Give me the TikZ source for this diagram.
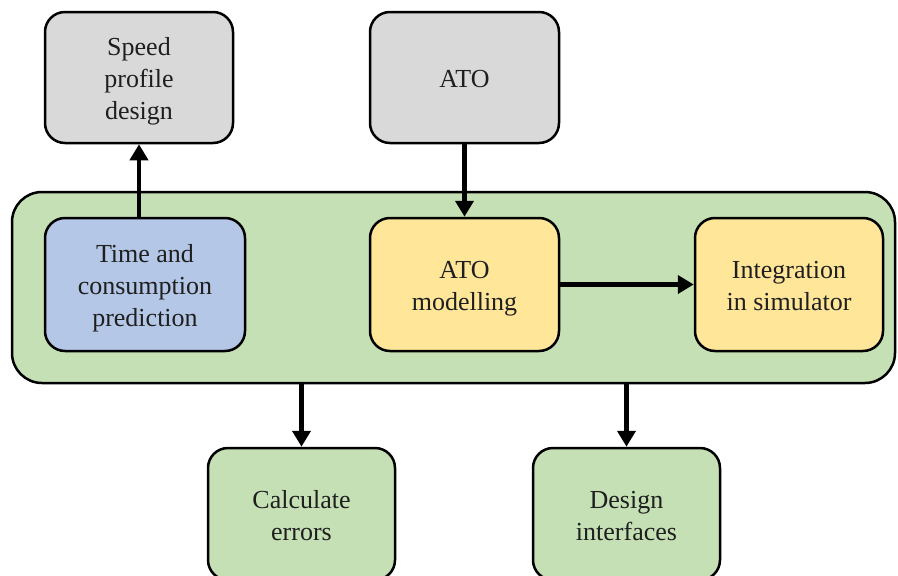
\documentclass[tikz,border=0pt]{standalone}
\usepackage{fontspec}
\setmainfont{Liberation Serif}
\usetikzlibrary{arrows.meta}
\definecolor{cgray}{HTML}{D9D9D9}
\definecolor{cgreen}{HTML}{C5E0B4}
\definecolor{cblue}{HTML}{B4C7E7}
\definecolor{cyellow}{HTML}{FFE699}
\newcommand\boxtext[1]{\raisebox{0pt}[\dimexpr\height+8pt\relax][\depth]{\begin{tabular}{@{}c@{}}#1\end{tabular}}}
\begin{document}
\begin{tikzpicture}[x=1pt,y=-1pt,
  box/.style={draw=black, line width=2.5pt, rounded corners=20pt, align=center,
    font=\fontsize{26}{32}\selectfont, inner sep=0pt, text=black!88},
  conn/.style={line width=4.5pt, -{Triangle[length=16pt,width=18pt]}}]
\useasboundingbox (0,0) rectangle (898,576);
\clip (0,0) rectangle (898,576);
\node[box, fill=cgreen, minimum width=883pt, minimum height=191pt, rounded corners=30pt] (cont) at (453.5,287.5) {};
\node[box, fill=cgray, minimum width=188pt, minimum height=131pt] (speed) at (139,77.5) {\boxtext{Speed\\profile\\design}};
\node[box, fill=cgray, minimum width=189pt, minimum height=131pt] (ato) at (464.5,77.5) {\boxtext{ATO}};
\node[box, fill=cblue, minimum width=200pt, minimum height=133pt] (time) at (145,284.5) {\boxtext{Time and\\consumption\\prediction}};
\node[box, fill=cyellow, minimum width=189pt, minimum height=133pt] (atom) at (464.5,284.5) {\boxtext{ATO\\modelling}};
\node[box, fill=cyellow, minimum width=188pt, minimum height=133pt] (integ) at (789,284.5) {\boxtext{Integration\\in simulator}};
\node[box, fill=cgreen, minimum width=187pt, minimum height=132pt] (calc) at (301.5,514) {\boxtext{Calculate\\errors}};
\node[box, fill=cgreen, minimum width=187pt, minimum height=132pt] (design) at (626.5,514) {\boxtext{Design\\interfaces}};
\draw[conn] (speed.south |- time.north) -- (speed.south);
\draw[conn] (ato.south) -- (atom.north);
\draw[conn] (atom.east) -- (integ.west);
\draw[conn] (calc.north |- cont.south) -- (calc.north);
\draw[conn] (design.north |- cont.south) -- (design.north);
\end{tikzpicture}
\end{document}
